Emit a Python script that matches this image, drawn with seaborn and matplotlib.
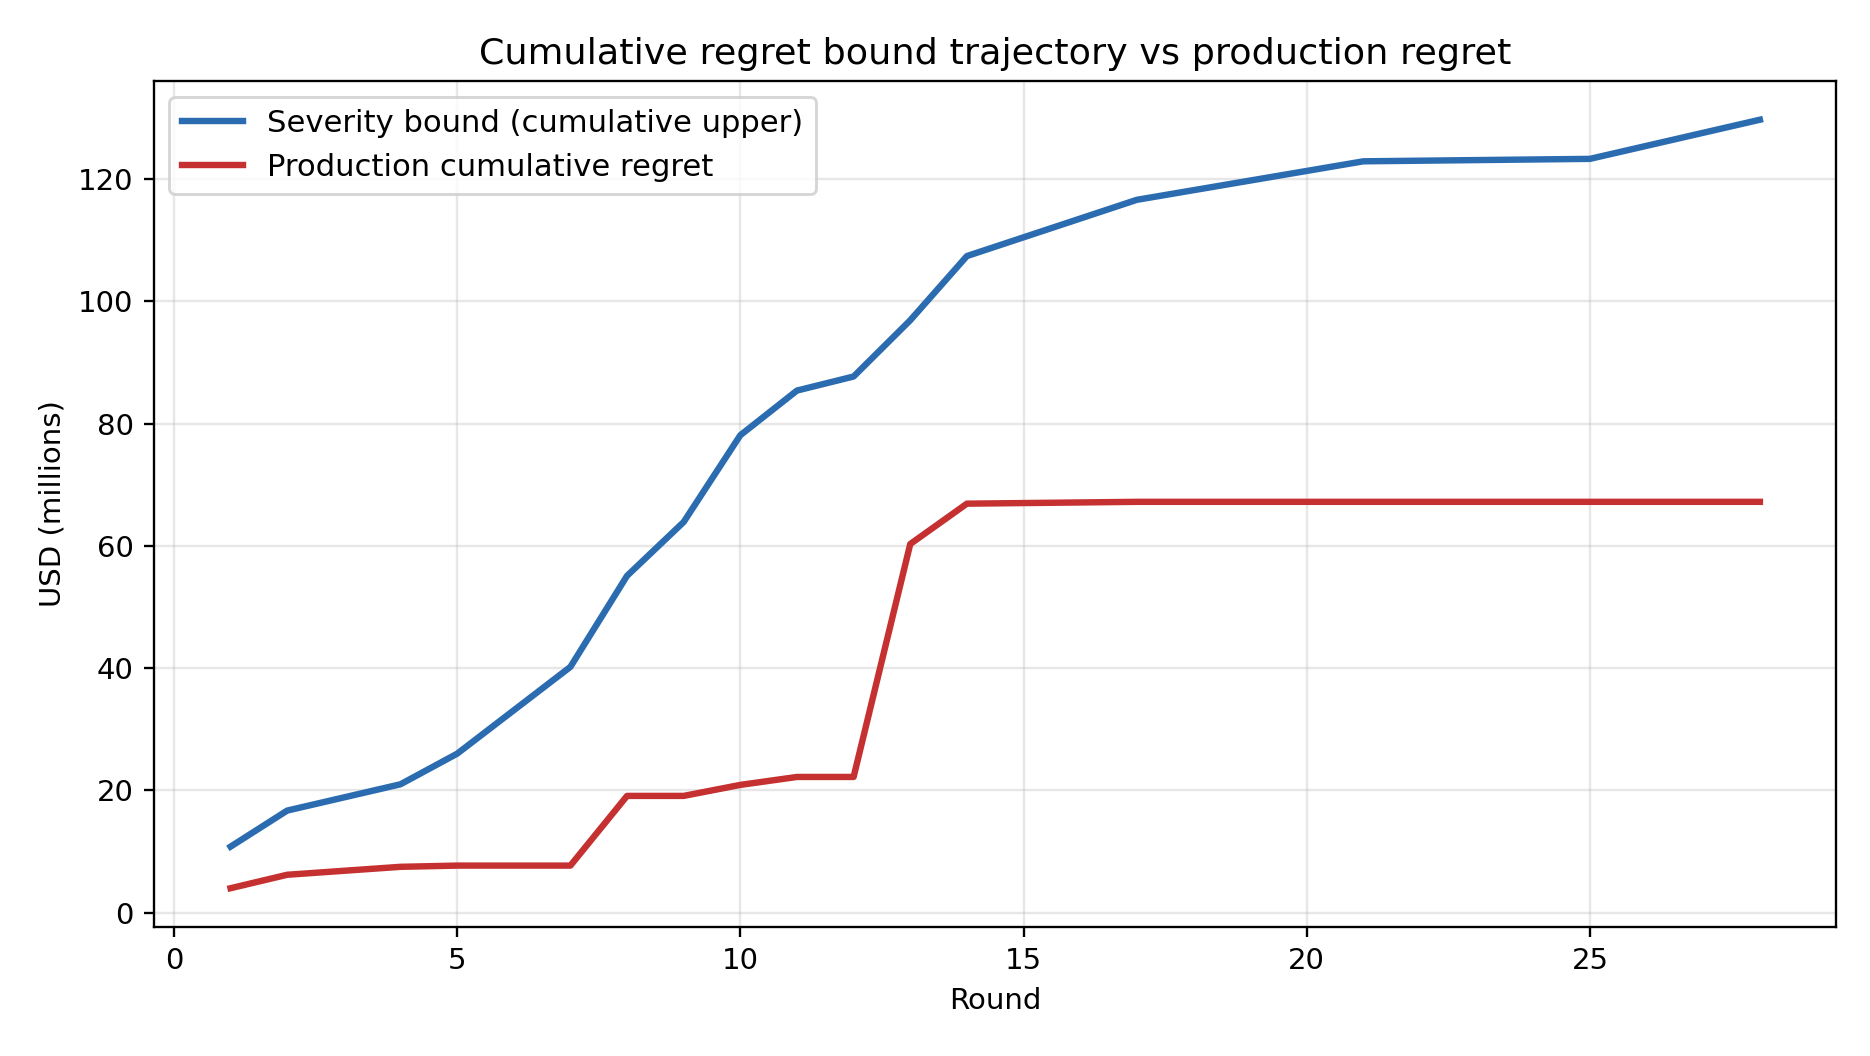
import pandas as pd
import matplotlib
matplotlib.use('Agg')
import matplotlib.pyplot as plt
import seaborn as sns

# Values
rounds = [1, 2, 4, 5, 7, 8, 9, 10, 11, 12, 13, 14, 17, 21, 25, 28]
severity_bound = [10.8, 16.7, 21.0, 26.0, 40.2, 55.1, 63.9, 78.1, 85.4, 87.7,
                  96.9, 107.4, 116.6, 122.9, 123.3, 129.7]
production_regret = [4.0, 6.2, 7.5, 7.7, 7.7, 19.1, 19.1, 20.9, 22.2, 22.2,
                     60.3, 66.9, 67.2, 67.2, 67.2, 67.2]

series_names = ['Severity bound (cumulative upper)', 'Production cumulative regret']
series_colors = ['#2b6cb0', '#c53030']

# Long-form table for seaborn
df = pd.concat([
    pd.DataFrame({'Round': rounds, 'USD': severity_bound, 'Series': series_names[0]}),
    pd.DataFrame({'Round': rounds, 'USD': production_regret, 'Series': series_names[1]}),
])

plt.rcParams['font.family'] = ['DejaVu Sans']
fig, ax = plt.subplots(figsize=(1870 / 210, 1056 / 210), dpi=210)
sns.lineplot(data=df, x='Round', y='USD', hue='Series', palette=series_colors,
             linewidth=2.2, ax=ax)

ax.set_title('Cumulative regret bound trajectory vs production regret', fontsize=12.5)
ax.set_xlabel('Round', fontsize=10)
ax.set_ylabel('USD (millions)', fontsize=10)
ax.tick_params(labelsize=10)
ax.grid(True, alpha=0.3)
ax.legend(loc='upper left', fontsize=10.5)

fig.subplots_adjust(left=0.0824, right=0.982, top=0.923, bottom=0.1225)
fig.savefig('out.png', dpi=210)
